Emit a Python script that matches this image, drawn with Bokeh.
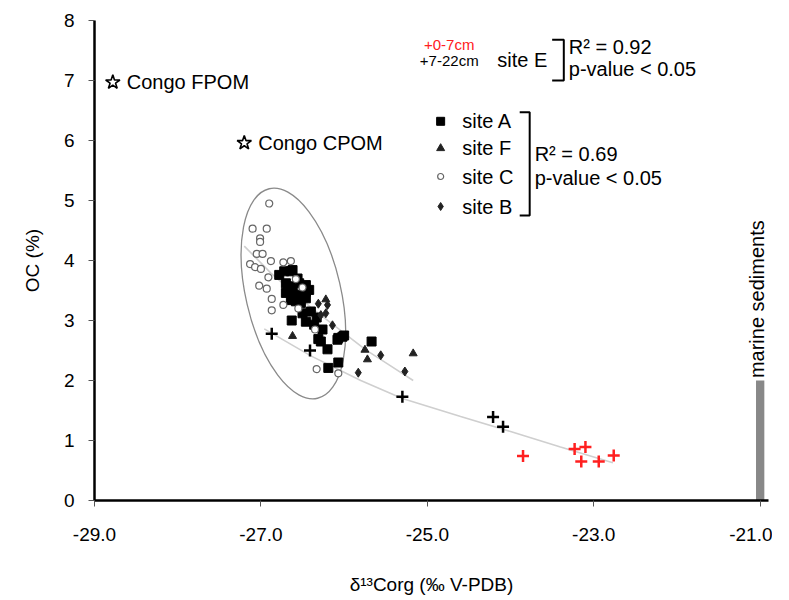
import numpy as np
from bokeh.plotting import figure
from bokeh.models import Range1d, Label, NumeralTickFormatter, FixedTicker
from bokeh.embed import file_html
from bokeh.resources import INLINE
from bokeh.core.properties import value

# ---------------- data ----------------
siteA_x = [-26.78, -26.72, -26.64, -26.62, -26.70, -26.62, -26.54, -26.46, -26.46, -26.70,
           -26.62, -26.54, -26.64, -26.58, -26.52, -26.46, -26.42, -26.63, -26.50, -26.46,
           -26.36, -26.26, -26.07, -26.00, -26.28, -26.20, -26.07, -26.19, -26.31, -25.67,
           -26.02, -26.08, -26.40, -26.33, -26.56, -26.68]
siteA_y = [3.76, 3.82, 3.82, 3.84, 3.62, 3.57, 3.62, 3.59, 3.48, 3.46,
           3.46, 3.43, 3.34, 3.32, 3.29, 3.37, 3.51, 3.00, 3.12, 2.98,
           2.93, 2.85, 2.71, 2.75, 2.65, 2.52, 2.30, 2.21, 2.69, 2.65,
           2.73, 2.68, 3.15, 3.05, 3.70, 3.55]

siteC_x = [-26.90, -27.10, -26.93, -27.01, -27.01, -27.05, -26.98, -27.13, -27.07, -27.00,
           -26.88, -26.73, -26.64, -26.91, -27.02, -26.93, -26.87, -26.87, -26.73, -26.58,
           -26.33, -26.07, -26.35, -26.55, -26.50]
siteC_y = [4.95, 4.53, 4.53, 4.37, 4.31, 4.11, 4.11, 3.94, 3.89, 3.86,
           3.99, 3.97, 3.99, 3.72, 3.58, 3.53, 3.36, 3.17, 3.26, 3.69,
           2.19, 2.12, 2.85, 3.20, 3.55]

siteF_x = [-26.62, -25.75, -25.72, -25.17, -26.22]
siteF_y = [2.74, 2.51, 2.35, 2.45, 3.35]

siteB_x = [-26.20, -26.31, -26.28, -26.14, -25.56, -25.27, -25.83, -26.22]
siteB_y = [3.26, 3.28, 3.09, 2.92, 2.42, 2.15, 2.13, 3.12]

siteE_deep_x = [-26.87, -26.41, -25.30, -24.21, -24.09]   # 7-22 cm
siteE_deep_y = [2.78, 2.50, 1.73, 1.39, 1.23]
siteE_top_x = [-23.85, -23.23, -23.10, -23.15, -22.94, -22.76]  # 0-7 cm
siteE_top_y = [0.74, 0.86, 0.89, 0.65, 0.65, 0.75]

congo_x = [-28.78, -27.20]
congo_y = [6.97, 5.96]
congo_labels = ["Congo FPOM", "Congo CPOM"]

trend1_x = [-27.20, -26.88, -26.40, -25.74, -25.46, -25.17]
trend1_y = [4.24, 3.79, 3.22, 2.51, 2.26, 2.00]
trend2_x = [-26.96, -26.40, -25.80, -25.30, -24.60, -24.00, -23.40, -22.77]
trend2_y = [2.86, 2.41, 2.00, 1.70, 1.40, 1.15, 0.89, 0.63]

marine_x = [-21.0]
marine_top = [2.0]

x_ticks = [-29, -27, -25, -23, -21]
y_ticks = [0, 1, 2, 3, 4, 5, 6, 7, 8]

FONT = "Liberation Sans"
RED = "#ff2020"

p = figure(frame_width=674, frame_height=480,
           x_range=Range1d(-29, -20.90), y_range=Range1d(0, 8),
           output_backend="svg", toolbar_location=None,
           min_border_left=94, min_border_top=20, min_border_right=4, min_border_bottom=82,
           background_fill_color="white", border_fill_color="white")
p.outline_line_color = None
p.xgrid.visible = False
p.ygrid.visible = False

for ax in (p.xaxis[0], p.yaxis[0]):
    ax.axis_line_width = 2.5
    ax.axis_line_color = "black"
    ax.major_tick_out = 6
    ax.major_tick_in = 0
    ax.major_tick_line_color = "#555555"
    ax.minor_tick_line_color = None
    ax.major_label_text_font = FONT
    ax.major_label_text_color = "black"
    ax.axis_label_text_font = FONT
    ax.axis_label_text_font_style = "normal"
    ax.axis_label_text_color = "black"

p.xaxis.ticker = FixedTicker(ticks=x_ticks)
p.xaxis.formatter = NumeralTickFormatter(format="0.0")
p.xaxis.major_label_text_font_size = "19px"
p.xaxis.major_label_standoff = 21
p.xaxis.axis_label = "δ¹³Corg (‰ V-PDB)"
p.xaxis.axis_label_text_font_size = "19px"
p.xaxis.axis_label_standoff = 30

p.yaxis.ticker = FixedTicker(ticks=y_ticks)
p.yaxis.major_label_text_font_size = "19px"
p.yaxis.major_label_standoff = 14
p.yaxis.axis_label = "OC (%)"
p.yaxis.axis_label_text_font_size = "19px"
p.yaxis.axis_label_standoff = 18

# ellipse around site C / A cluster
p.ellipse(x=[-26.61], y=[3.45], width=95, height=215, angle=0.227,
          width_units="screen", height_units="screen",
          fill_color=None, line_color="#8a8a8a", line_width=1.3)

# trend lines
p.line(trend1_x, trend1_y, line_color="#cfcfcf", line_width=1.6)
p.line(trend2_x, trend2_y, line_color="#cfcfcf", line_width=1.6)

# marine sediments bar
p.vbar(x=marine_x, top=marine_top, bottom=0, width=0.1, fill_color="#888888", line_color=None)
p.add_layout(Label(x=-21.0, y=2.04, x_offset=-3, text="marine sediments", angle=np.pi / 2,
                   text_font=FONT, text_font_size="20px", text_align="left",
                   text_baseline="middle", text_color="black"))

# data points
p.scatter(siteA_x, siteA_y, marker="square", size=9, fill_color="black", line_color="black")
p.scatter(siteC_x, siteC_y, marker="circle", size=7, fill_color="white", line_color="#666666", line_width=1.2)
p.scatter(siteF_x, siteF_y, marker="triangle", size=8, fill_color="#222222", line_color="#222222")
p.scatter(siteB_x, siteB_y, marker="diamond", size=9, fill_color="#222222", line_color="#222222")
p.scatter(siteE_deep_x, siteE_deep_y, marker="cross", size=12, line_color="black", line_width=2.5)
p.scatter(siteE_top_x, siteE_top_y, marker="cross", size=12, line_color=RED, line_width=2.5)
p.scatter(congo_x, congo_y, marker="star", size=15, fill_color="white", line_color="black", line_width=1.6)

for cx, cy, lab in zip(congo_x, congo_y, congo_labels):
    p.add_layout(Label(x=cx, y=cy, x_offset=14, text=lab, text_font=FONT, text_font_size="20px",
                       text_baseline="middle", text_align="left", text_color="black"))

# ---- legend block for site E ----
def txt(x, y, t, size="20px", color="black"):
    p.add_layout(Label(x=x, y=y, text=t, text_font=FONT, text_font_size=size,
                       text_baseline="middle", text_align="left", text_color=color))

txt(-25.04, 7.60, "+0-7cm", "15px", RED)
txt(-25.09, 7.34, "+7-22cm", "15px", "black")
txt(-24.16, 7.34, "site E", "20px")
p.line([-23.50, -23.36, -23.36, -23.50], [7.68, 7.68, 7.0, 7.0], line_color="black", line_width=2)
txt(-23.30, 7.56, "R² = 0.92")
txt(-23.30, 7.19, "p-value < 0.05")

# ---- legend block for sites A F C B ----
leg_x = -24.84
p.scatter([leg_x], [6.32], marker="square", size=8, fill_color="black", line_color="black")
p.scatter([leg_x], [5.87], marker="triangle", size=8, fill_color="#222222", line_color="#222222")
p.scatter([leg_x], [5.40], marker="circle", size=6, fill_color="white", line_color="#666666", line_width=1.2)
p.scatter([leg_x], [4.90], marker="diamond", size=8, fill_color="#222222", line_color="#222222")
txt(-24.58, 6.32, "site A")
txt(-24.58, 5.87, "site F")
txt(-24.58, 5.40, "site C")
txt(-24.58, 4.90, "site B")
p.line([-23.89, -23.77, -23.77, -23.89], [6.47, 6.47, 4.75, 4.75], line_color="black", line_width=2)
txt(-23.71, 5.78, "R² = 0.69")
txt(-23.71, 5.38, "p-value < 0.05")

open("out.html", "w").write(file_html(p, INLINE))
